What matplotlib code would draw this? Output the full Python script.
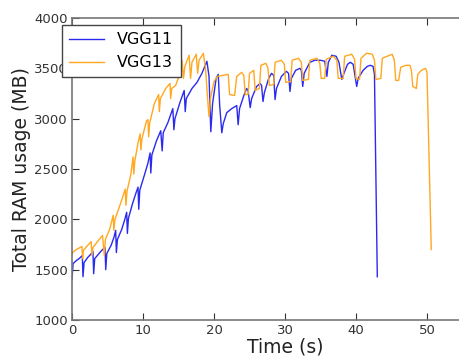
import matplotlib
matplotlib.use("Agg")
import matplotlib.pyplot as plt

# -----------------------------
# Data
# -----------------------------
time_vgg11 = [0.0, 0.15, 0.6, 1.0, 1.45, 1.55, 1.7, 2.2, 2.6, 2.95, 3.05, 3.2, 3.8, 4.3, 4.65, 4.75,
              4.9, 5.5, 5.9, 6.15, 6.25, 6.4, 7.0, 7.4, 7.7, 7.8, 7.95, 8.5, 9.0, 9.3, 9.4, 9.55,
              10.2, 10.7, 11.0, 11.1, 11.25, 11.9, 12.5, 12.7, 12.85, 13.5, 14.2, 14.35, 14.5, 15.2,
              15.8, 15.95, 16.1, 16.9, 17.6, 18.3, 19.0, 19.3, 19.55, 19.8, 20.3, 20.6, 20.8, 21.1,
              21.3, 21.8, 22.5, 23.2, 23.4, 23.6, 24.2, 24.6, 24.8, 25.1, 25.3, 26.0, 26.5, 26.7,
              26.9, 27.1, 27.7, 28.1, 28.4, 28.6, 28.8, 29.5, 30.2, 30.5, 30.7, 30.9, 31.5, 32.1,
              32.3, 32.5, 32.7, 33.5, 34.2, 35.0, 35.6, 35.9, 36.1, 36.6, 37.2, 37.6, 38.0, 38.3,
              38.8, 39.2, 39.6, 40.1, 40.3, 41.0, 41.6, 42.0, 42.4, 42.6, 43.0]
ram_vgg11 = [1400, 1560, 1590, 1610, 1640, 1430, 1570, 1620, 1650, 1680, 1460, 1610, 1660, 1700, 1720, 1500,
             1660, 1740, 1820, 1890, 1670, 1800, 1900, 1990, 2070, 1860, 2010, 2150, 2260, 2320, 2100, 2290,
             2440, 2560, 2660, 2460, 2640, 2780, 2880, 2680, 2860, 2960, 3100, 2890, 3000, 3160,
             3280, 3070, 3200, 3300, 3360, 3450, 3570, 3420, 2870, 3150, 3400, 3440, 3130, 2860,
             2950, 3060, 3100, 3130, 2940, 3100, 3230, 3300, 3280, 3110, 3200, 3320, 3350, 3330,
             3170, 3260, 3400, 3450, 3430, 3190, 3300, 3420, 3470, 3450, 3270, 3400, 3480, 3500,
             3480, 3320, 3450, 3560, 3580, 3580, 3570, 3420, 3560, 3630, 3620, 3560, 3390, 3450,
             3540, 3560, 3540, 3320, 3400, 3480, 3520, 3530, 3520, 3440, 1430]

time_vgg13 = [0.0, 0.1, 0.6, 1.0, 1.4, 1.5, 1.6, 2.2, 2.7, 2.8, 2.95, 3.6, 4.3, 4.55, 4.7, 5.3,
              5.8, 5.9, 6.05, 6.8, 7.5, 7.6, 7.75, 8.3, 8.6, 8.7, 8.85, 9.3, 9.6, 9.7, 9.85, 10.5,
              10.7, 10.8, 10.95, 11.6, 12.2, 12.3, 12.45, 13.2, 13.8, 13.9, 14.05, 14.6, 15.2, 15.5,
              15.7, 15.9, 16.5, 16.7, 16.9, 17.5, 17.7, 17.9, 18.5, 18.8, 19.1, 19.3, 19.5, 20.0,
              20.5, 21.2, 22.0, 22.2, 22.9, 23.2, 23.9, 24.2, 24.4, 24.8, 25.0, 25.6, 25.8, 26.4,
              26.6, 27.3, 27.6, 27.8, 28.4, 28.6, 29.5, 29.9, 30.1, 30.8, 31.0, 31.9, 32.3, 32.5,
              33.3, 33.5, 34.5, 34.9, 35.1, 35.6, 35.8, 36.8, 37.3, 37.5, 38.2, 38.4, 39.4, 39.8,
              40.0, 40.5, 40.7, 41.5, 42.3, 42.6, 42.8, 43.5, 43.7, 44.4, 45.1, 45.4, 45.6, 46.0,
              46.3, 47.0, 47.6, 47.8, 48.0, 48.5, 48.7, 49.2, 49.8, 50.0, 50.6]
ram_vgg13 = [1640, 1670, 1700, 1715, 1730, 1610, 1690, 1740, 1780, 1640, 1720, 1780, 1840, 1640, 1800, 1900,
             2040, 1890, 2000, 2150, 2300, 2140, 2280, 2450, 2620, 2450, 2580, 2760, 2850, 2690, 2800, 2980,
             2990, 2820, 2960, 3150, 3240, 3070, 3200, 3300, 3350, 3200, 3300, 3330, 3450, 3580,
             3400, 3520, 3630, 3400, 3560, 3640, 3450, 3580, 3650, 3500, 3200, 3020, 3200, 3370,
             3420, 3430, 3440, 3240, 3230, 3420, 3460, 3430, 3240, 3240, 3450, 3480, 3280, 3300,
             3530, 3550, 3500, 3330, 3340, 3560, 3580, 3540, 3360, 3370, 3580, 3600, 3560, 3380,
             3390, 3580, 3600, 3550, 3400, 3400, 3590, 3620, 3580, 3400, 3400, 3620, 3640, 3590,
             3400, 3390, 3600, 3650, 3640, 3580, 3390, 3400, 3600, 3620, 3640, 3580, 3380, 3380,
             3510, 3530, 3530, 3480, 3320, 3300, 3440, 3480, 3500, 3460, 1700]

x_ticks = [0, 10, 20, 30, 40, 50]
y_ticks = [1000, 1500, 2000, 2500, 3000, 3500, 4000]

# -----------------------------
# Figure
# -----------------------------
fig = plt.figure(figsize=(4.59, 3.56), dpi=100)
# axes run past the right edge of the figure (the reference is cropped there)
ax = fig.add_axes([72 / 459, 36 / 356, 426 / 459, 302 / 356])

ax.plot(time_vgg11, ram_vgg11, color="#2a2af0", lw=1.0, label="VGG11")
ax.plot(time_vgg13, ram_vgg13, color="#ffa820", lw=1.0, label="VGG13")

ax.set_xlim(0, 60)
ax.set_ylim(1000, 4000)
ax.set_xticks(x_ticks)
ax.set_yticks(y_ticks)
ax.tick_params(direction="in", top=True, right=True, length=5, width=0.8,
               labelsize=9.5, colors="#333333", pad=3)
for sp in ax.spines.values():
    sp.set_color("#777777")
    sp.set_linewidth(1.2)

ax.set_xlabel("Time (s)", fontsize=13.5, color="#222222", labelpad=0)
ax.set_ylabel("Total RAM usage (MB)", fontsize=13.5, color="#222222", labelpad=2)

leg = ax.legend(loc="upper left", bbox_to_anchor=(62 / 459, 1 - 25 / 356),
                bbox_transform=fig.transFigure, borderaxespad=0, fontsize=11.5,
                fancybox=False, framealpha=1, handlelength=2.2, borderpad=0.45)
leg.get_frame().set_edgecolor("#444444")
leg.get_frame().set_linewidth(1.0)

fig.savefig("out.png", dpi=100)
